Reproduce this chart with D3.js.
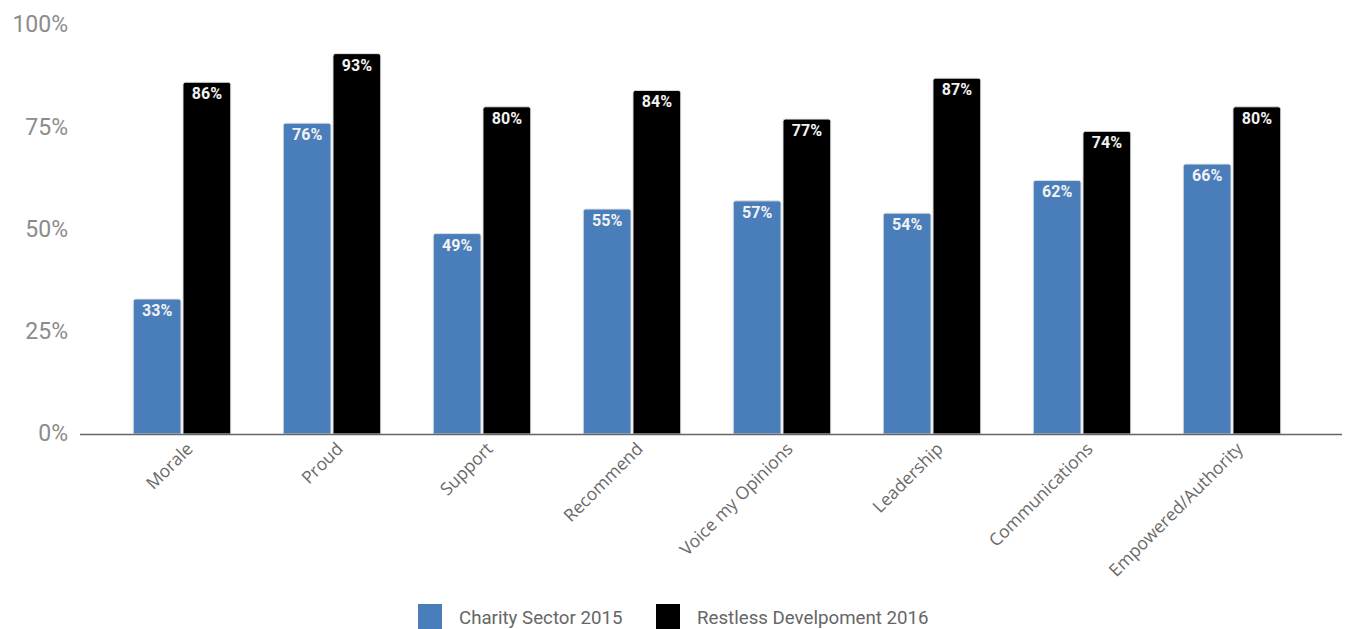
<!DOCTYPE html>
<html><head><meta charset="utf-8">
<script src="https://cdn.jsdelivr.net/npm/d3@7"></script>
<style>body{margin:0;background:#fff;} svg{display:block;}</style>
</head><body><svg id="c" width="1346" height="629"></svg>
<script>
const categories = ["Morale","Proud","Support","Recommend","Voice my Opinions","Leadership","Communications","Empowered/Authority"];
const seriesNames = ["Charity Sector 2015","Restless Develpoment 2016"];
const charity2015 = [33,76,49,55,57,54,62,66];
const restless2016 = [86,93,80,84,77,87,74,80];
const yTicks = [0,25,50,75,100];
const colors = ["#4a7ebb","#000000"];

const svg = d3.select("#c");
const y = d3.scaleLinear().domain([0,100]).range([434,25]);
const x = d3.scaleBand().domain(categories).range([107,1307]).paddingInner(0.35).paddingOuter(0.175);
const xs = d3.scaleBand().domain(seriesNames).range([0,x.bandwidth()]).paddingInner(0.04);

// y labels
const yAxis = d3.axisLeft(y).tickValues(yTicks).tickFormat(d=>d+"%").tickSize(0).tickPadding(0);
const ya = svg.append("g").attr("transform","translate(68,0)").call(yAxis);
ya.select(".domain").remove();
ya.selectAll("text").attr("font-family","Roboto").attr("font-size",23).attr("fill","#8c8c8c")
  .attr("dy","0.3em");

const rows = categories.map((c,i)=>({c, vals:[charity2015[i], restless2016[i]]}));
const g = svg.append("g");
rows.forEach(r=>{
  r.vals.forEach((v,j)=>{
    const x0 = x(r.c)+xs(seriesNames[j]);
    const w = xs.bandwidth();
    const top = y(v), h = y(0)-y(v);
    const rr=2.5;
    const p = `M${x0},${top+h} V${top+rr} Q${x0},${top} ${x0+rr},${top} H${x0+w-rr} Q${x0+w},${top} ${x0+w},${top+rr} V${top+h} Z`;
    g.append("path").attr("d",p).attr("fill",colors[j]).attr("stroke","#e0e0e0").attr("stroke-width",1);
    g.append("text").attr("x",x0+w/2).attr("y",top+17).attr("text-anchor","middle")
      .attr("font-family","Roboto").attr("font-weight","bold").attr("font-size",16).attr("fill","#f2f2f2").text(v+"%");
  });
});

// x axis
const xAxis = d3.axisBottom(x).tickSize(0).tickPadding(0);
const xa = svg.append("g").attr("transform","translate(0,434)").call(xAxis);
xa.select(".domain").remove();
svg.append("line").attr("x1",80).attr("x2",1342).attr("y1",434.5).attr("y2",434.5).attr("stroke","#666").attr("stroke-width",1.5);
xa.selectAll(".tick text")
  .attr("font-family","Open Sans").attr("font-size",17.5).attr("fill","#6a6a6a")
  .attr("text-anchor","end").attr("dy",0).attr("y",0)
  .attr("transform","translate(12,16) rotate(-45)");

// legend
const lg = svg.append("g");
const lx = [418,656];
seriesNames.forEach((s,j)=>{
  lg.append("rect").attr("x",lx[j]).attr("y",604).attr("width",24).attr("height",25).attr("fill",colors[j]);
  lg.append("text").attr("x",lx[j]+41).attr("y",624).attr("font-family","Roboto").attr("font-size",18.7).attr("fill","#666").text(s);
});
</script></body></html>
